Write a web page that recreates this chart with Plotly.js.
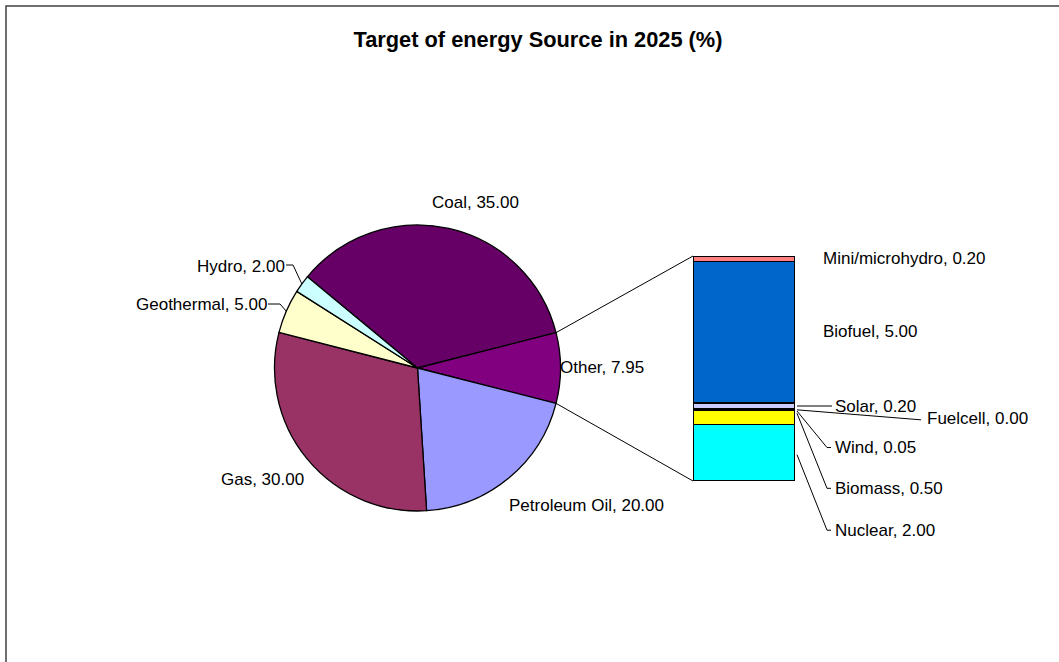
<!DOCTYPE html>
<html><head><meta charset="utf-8">
<script src="https://cdn.plot.ly/plotly-3.0.1.min.js"></script>
<style>html,body{margin:0;padding:0;background:#fff}#chart{width:1059px;height:662px}</style>
</head><body><div id="chart"></div><script>
// ---- data ----
const pieLabels = ['Coal', 'Other', 'Petroleum Oil', 'Gas', 'Geothermal', 'Hydro'];
const pieValues = [35.00, 7.95, 20.00, 30.00, 5.00, 2.00];
const pieColors = ['#660066', '#800080', '#9999FF', '#993366', '#FFFFCC', '#CCFFFF'];
const barLabels = ['Nuclear', 'Biomass', 'Wind', 'Fuelcell', 'Solar', 'Biofuel', 'Mini/microhydro'];
const barValues = [2.00, 0.50, 0.05, 0.00, 0.20, 5.00, 0.20];
const barColors = ['#00FFFF', '#FFFF00', '#FFFF00', '#FFFF00', '#CCCCFF', '#0066CC', '#FF8080'];
const titleText = 'Target of energy Source in 2025 (%)';

// ---- layout geometry (px) ----
const W = 1059, H = 662;
const FONT = 'Liberation Sans, Arial, sans-serif';
const pie = {cx: 417.5, cy: 368, r: 143};
const bar = {x0: 693, x1: 795, top: 256, bottom: 481};
const px = x => x / W;
const py = y => 1 - y / H;

const pieTotal = pieValues.reduce((a, b) => a + b, 0);
const otherIdx = pieLabels.indexOf('Other');
const before = pieValues.slice(0, otherIdx).reduce((a, b) => a + b, 0);
const rotation = 90 - (before + pieValues[otherIdx] / 2) / pieTotal * 360;
const angAt = v => (rotation + v / pieTotal * 360) * Math.PI / 180;
const piePt = (ang, rr) => [pie.cx + (rr || pie.r) * Math.sin(ang), pie.cy - (rr || pie.r) * Math.cos(ang)];

const traces = [];
traces.push({
  type: 'pie', labels: pieLabels, values: pieValues, sort: false, direction: 'clockwise',
  rotation: rotation, textinfo: 'none', hoverinfo: 'none',
  marker: {colors: pieColors, line: {color: '#000', width: 1.3}},
  domain: {x: [px(pie.cx - pie.r), px(pie.cx + pie.r)], y: [py(pie.cy + pie.r), py(pie.cy - pie.r)]},
  showlegend: false
});
barLabels.forEach((lab, i) => {
  traces.push({
    type: 'bar', x: [0], y: [barValues[i]], name: lab, width: 1,
    marker: {color: barColors[i], line: {color: '#000', width: 1.5}},
    hoverinfo: 'none', showlegend: false, xaxis: 'x', yaxis: 'y'
  });
});
const barTotal = barValues.reduce((a, b) => a + b, 0);
const barY = v => bar.bottom - v / barTotal * (bar.bottom - bar.top);

const annotations = [];
const shapes = [];
// frame
shapes.push({type: 'rect', xref: 'paper', yref: 'paper', x0: px(6), x1: 1.05, y0: py(6), y1: -0.05,
  line: {color: '#404040', width: 1.5}, fillcolor: 'rgba(0,0,0,0)', layer: 'above'});

const polyPath = pts => 'M' + pts.map(q => px(q[0]) + ',' + py(q[1])).join(' L');

// pie labels
const pieLabelPos = {
  'Coal': {x: 475.3, y: 202, anchor: 'center'},
  'Other': {x: 558, y: 367.3, anchor: 'left'},
  'Petroleum Oil': {x: 506.8, y: 505, anchor: 'left'},
  'Gas': {x: 262.7, y: 479, anchor: 'center'},
  'Geothermal': {x: 269, y: 304.5, anchor: 'right'},
  'Hydro': {x: 286.5, y: 266, anchor: 'right'}
};
const pieLeaders = {
  'Geothermal': {elbow: [[268, 304], [280, 304]]},
  'Hydro': {elbow: [[286, 265], [293, 265]]}
};
let cum = 0;
pieLabels.forEach((lab, i) => {
  const p = pieLabelPos[lab];
  annotations.push({xref: 'paper', yref: 'paper', x: px(p.x), y: py(p.y), xanchor: p.anchor, yanchor: 'middle',
    text: lab + ', ' + pieValues[i].toFixed(2), showarrow: false, font: {family: FONT, size: 17, color: '#000'}});
  const mid = angAt(cum + pieValues[i] / 2);
  if (pieLeaders[lab]) {
    const pts = pieLeaders[lab].elbow.concat([piePt(mid)]);
    shapes.push({type: 'path', xref: 'paper', yref: 'paper', path: polyPath(pts), line: {color: '#000', width: 1}});
  }
  cum += pieValues[i];
});

// connector lines (pie "Other" slice edges -> bar corners)
const a1 = angAt(before), a2 = angAt(before + pieValues[otherIdx]);
const p1 = piePt(a1), p2 = piePt(a2);
shapes.push({type: 'line', xref: 'paper', yref: 'paper', x0: px(p1[0]), y0: py(p1[1]), x1: px(bar.x0), y1: py(bar.top), line: {color: '#000', width: 1}});
shapes.push({type: 'line', xref: 'paper', yref: 'paper', x0: px(p2[0]), y0: py(p2[1]), x1: px(bar.x0), y1: py(bar.bottom), line: {color: '#000', width: 1}});

// bar labels (offsets in px from bar right edge at segment centre: dx right, dy down) and leader lines
const barLabelPos = {
  'Mini/microhydro': {dx: 26, dy: 0},
  'Biofuel': {dx: 26, dy: -1},
  'Solar': {dx: 38, dy: 0, line: [[2, 0], [37, 0]]},
  'Fuelcell': {dx: 130, dy: 10, line: [[2, 1], [126, 11]]},
  'Wind': {dx: 38, dy: 38, line: [[2, 1.5], [32, 38], [36, 38]]},
  'Biomass': {dx: 38, dy: 71, line: [[2, -4], [32, 71], [36, 71]]},
  'Nuclear': {dx: 38, dy: 77.5, line: [[2, 2], [32, 77.5], [36, 77.5]]}
};
let bcum = 0;
barLabels.forEach((lab, i) => {
  const c = bcum + barValues[i] / 2;
  bcum += barValues[i];
  const p = barLabelPos[lab];
  const ax = bar.x1, ay = barY(c);
  annotations.push({xref: 'paper', yref: 'paper', x: px(ax + p.dx), y: py(ay + p.dy), xanchor: 'left', yanchor: 'middle',
    text: lab + ', ' + barValues[i].toFixed(2), showarrow: false,
    font: {family: FONT, size: 17, color: '#000'}});
  if (p.line) {
    shapes.push({type: 'path', xref: 'paper', yref: 'paper',
      path: polyPath(p.line.map(q => [ax + q[0], ay + q[1]])), line: {color: '#000', width: 1}});
  }
});

const layout = {
  width: W, height: H, margin: {l: 0, r: 0, t: 0, b: 0},
  paper_bgcolor: '#fff', plot_bgcolor: 'rgba(0,0,0,0)',
  barmode: 'stack', hovermode: false, showlegend: false,
  title: {text: titleText, x: px(538), xanchor: 'center', y: py(39), yanchor: 'middle',
    font: {family: FONT, size: 21.8, weight: 'bold', color: '#000'}},
  xaxis: {domain: [px(bar.x0), px(bar.x1)], range: [-0.5, 0.5], visible: false, fixedrange: true},
  yaxis: {domain: [py(bar.bottom), py(bar.top)], range: [0, barTotal], visible: false, fixedrange: true},
  annotations: annotations, shapes: shapes
};
Plotly.newPlot('chart', traces, layout, {staticPlot: true, displayModeBar: false});
</script></body></html>
